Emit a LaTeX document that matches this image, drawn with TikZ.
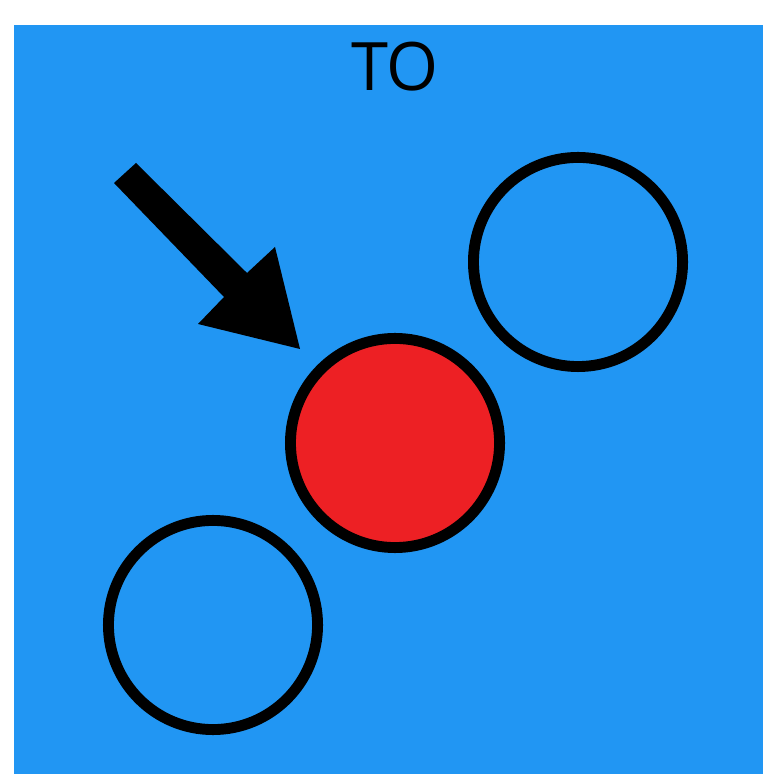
\documentclass[tikz,border=0pt]{standalone}
\usepackage{fontspec}
\setmainfont{Open Sans}
\usetikzlibrary{positioning}
\definecolor{boardblue}{RGB}{33,150,243}
\definecolor{stonered}{RGB}{237,32,36}

\begin{document}
\begin{tikzpicture}[x=0.01cm, y=-0.01cm,
    stone/.style={circle, draw=black, line width=3.1pt, minimum size=2.09cm, inner sep=0pt},
    label/.style={font=\fontsize{19}{22}\selectfont, text=black}
]

\useasboundingbox (0,0) rectangle (763,774);

% Board
\fill[boardblue] (14,25) rectangle (763,774);
\node[label] (title) at (395,67) {TO};

% Stones
\node[stone] (upper) at (578,262) {};
\node[stone, fill=stonered] (target) at (395,443) {};
\node[stone] (lower) at (213,625) {};

% Pointer
\fill[black] (114,183) -- (136,163) -- (247,273) -- (275,247) -- (300,349)
    -- (198,324) -- (224,297) -- cycle;

\end{tikzpicture}
\end{document}
